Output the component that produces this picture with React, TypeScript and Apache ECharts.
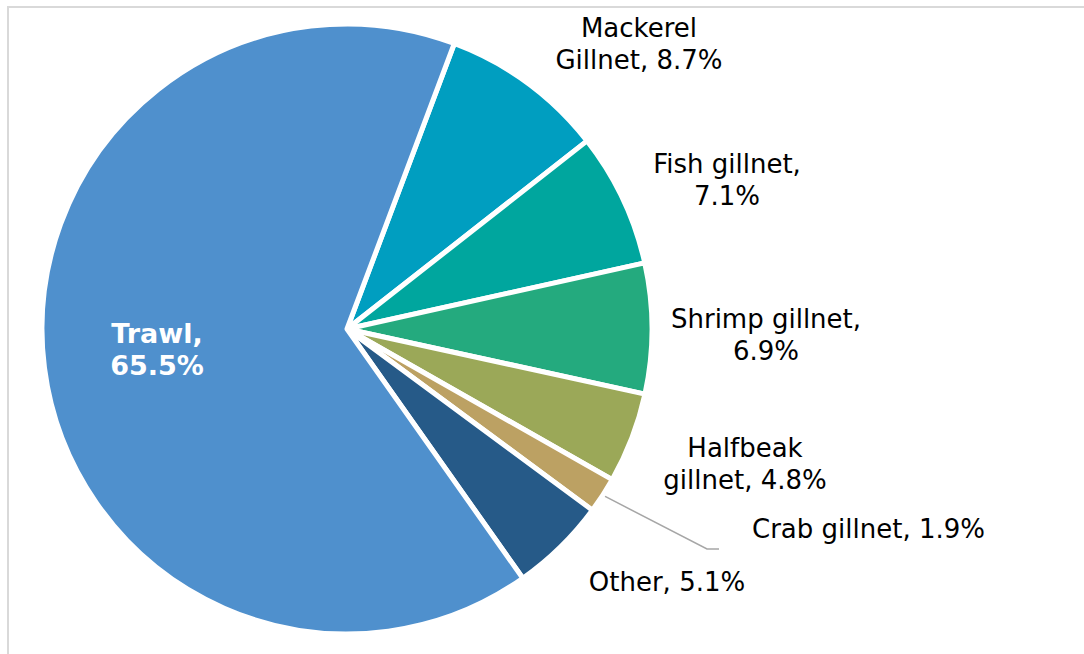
import React, { useEffect, useRef } from "react";
import * as echarts from "echarts";

// Data (clockwise from the Mackerel slice)
const categories = [
  "Mackerel Gillnet",
  "Fish gillnet",
  "Shrimp gillnet",
  "Halfbeak gillnet",
  "Crab gillnet",
  "Other",
  "Trawl",
];
const shares = [8.7, 7.1, 6.9, 4.8, 1.9, 5.1, 65.5];
const labelTexts = [
  "Mackerel\nGillnet, 8.7%",
  "Fish gillnet,\n7.1%",
  "Shrimp gillnet,\n6.9%",
  "Halfbeak\ngillnet, 4.8%",
  "Crab gillnet, 1.9%",
  "Other, 5.1%",
  "Trawl,\n65.5%",
];

// Styles / layout
const colors = ["#009EC0", "#00A69E", "#24AA7E", "#9BA858", "#BCA163", "#265A88", "#4F90CD"];
const labelAnchors: { x: number; y: number; align: string }[] = [
  { x: 639, y: 44, align: "center" },
  { x: 727, y: 180, align: "center" },
  { x: 766, y: 335, align: "center" },
  { x: 745, y: 464, align: "center" },
  { x: 752, y: 529, align: "left" },
  { x: 667, y: 582, align: "center" },
  { x: 157, y: 349, align: "center" },
];
const PIE_CENTER = [347, 329];
const PIE_RADIUS = 305;

export default function App() {
  const ref = useRef<HTMLDivElement>(null);

  useEffect(() => {
    if (!ref.current) return;
    const chart = echarts.init(ref.current, undefined, { renderer: "svg" });

    const data = categories.map((name, i) => {
      const isTrawl = name === "Trawl";
      const isCrab = name === "Crab gillnet";
      return {
        name,
        value: shares[i],
        itemStyle: { color: colors[i] },
        label: {
          formatter: labelTexts[i],
          color: isTrawl ? "#ffffff" : "#000000",
          fontWeight: isTrawl ? "bold" : "normal",
          fontSize: isTrawl ? 27 : 26,
          align: labelAnchors[i].align,
        },
        labelLine: { show: isCrab },
      };
    });

    chart.setOption({
      animation: false,
      backgroundColor: "#ffffff",
      graphic: [
        {
          type: "rect",
          shape: { x: 8, y: 7, width: 1200, height: 800 },
          style: { fill: "none", stroke: "#D9D9D9", lineWidth: 2 },
          silent: true,
        },
      ],
      series: [
        {
          type: "pie",
          center: PIE_CENTER,
          radius: PIE_RADIUS,
          startAngle: 69.4,
          clockwise: true,
          avoidLabelOverlap: false,
          itemStyle: { borderColor: "#ffffff", borderWidth: 5 },
          label: {
            show: true,
            position: "outside",
            fontFamily: "DejaVu Sans",
            fontSize: 26,
            lineHeight: 32,
            color: "#000000",
          },
          labelLine: {
            show: false,
            lineStyle: { color: "#A6A6A6", width: 1.5 },
          },
          emphasis: { disabled: true },
          labelLayout: (params: any) => {
            const a = labelAnchors[params.dataIndex];
            const res: any = {
              x: a.x,
              y: a.y,
              align: a.align,
              verticalAlign: "middle",
            };
            if (categories[params.dataIndex] === "Crab gillnet") {
              const start =
                params.labelLinePoints && params.labelLinePoints[0]
                  ? params.labelLinePoints[0]
                  : [a.x - 150, a.y - 30];
              const end = [a.x - 33, a.y + 20];
              const mid = [end[0] - 12, end[1]];
              res.labelLinePoints = [start, mid, end];
            }
            return res;
          },
          data,
        },
      ],
    });

    return () => chart.dispose();
  }, []);

  return (
    <div
      ref={ref}
      style={{ position: "absolute", left: 0, top: 0, width: 1084, height: 654 }}
    />
  );
}
